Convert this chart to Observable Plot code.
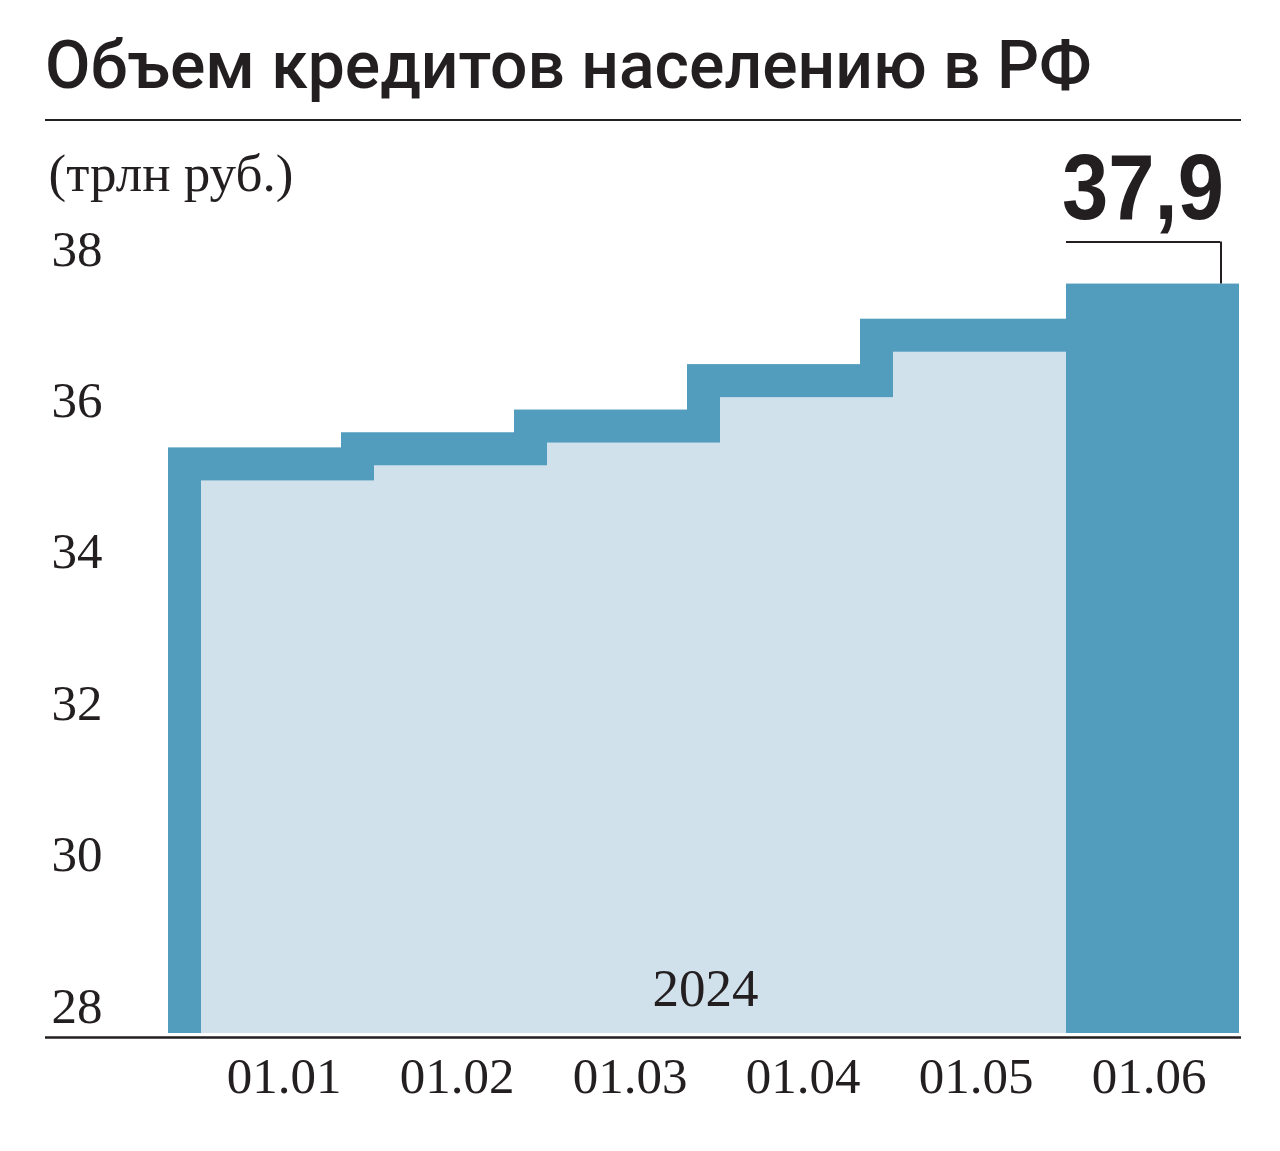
<!DOCTYPE html>
<html><head><meta charset="utf-8">
<script src="https://cdn.jsdelivr.net/npm/d3@7"></script>
<script src="https://cdn.jsdelivr.net/npm/@observablehq/plot@0.6"></script>
<style>
html,body{margin:0;padding:0;background:#fff;}
body{width:1280px;height:1151px;position:relative;overflow:hidden;}
#title{position:absolute;left:45px;top:33px;font-family:Roboto,'Liberation Sans',sans-serif;font-weight:500;font-size:66px;line-height:66px;color:#231f20;white-space:nowrap;}
#rule{position:absolute;left:45px;top:119px;width:1196px;height:2px;background:#231f20;}
#chart{position:absolute;left:0;top:122px;}
</style></head><body>
<div id="title">Объем кредитов населению в РФ</div>
<div id="rule"></div>
<div id="chart"></div>
<script>
const dates = ["01.01", "01.02", "01.03", "01.04", "01.05", "01.06"];
const values = [35.3, 35.5, 35.8, 36.4, 37.0, 37.9];
const yTicks = [28, 30, 32, 34, 36, 38];
const baseValue = 28;
const unitLabel = "(трлн руб.)";
const yearLabel = "2024";

const data = dates.map((d, i) => ({date: d, value: values[i]}));
const history = data.slice(0, -1);
const latest = data.slice(-1);
const fmt = v => v.toFixed(1).replace(".", ",");
const dark = "#529cbd", light = "#d0e1eb", ink = "#231f20";
const serif = "'Liberation Serif', 'Times New Roman', serif";

const plot = Plot.plot({
  width: 1280, height: 1029,
  marginLeft: 45, marginRight: 39, marginTop: 154, marginBottom: 118,
  style: {fontFamily: serif, fontSize: "51px", color: ink, background: "transparent"},
  x: {domain: dates, range: [199, 1241], padding: 0, label: null},
  y: {domain: [baseValue, 38], label: null},
  marks: [
    Plot.barY(history, {x: "date", y1: baseValue, y2: "value", fill: dark, insetLeft: -33, insetTop: -33}),
    Plot.barY(history, {x: "date", y1: baseValue, y2: "value", fill: light}),
    Plot.barY(latest, {x: "date", y1: baseValue, y2: "value", fill: dark}),
    Plot.ruleY([baseValue], {dy: 4, stroke: ink, strokeWidth: 2.5}),
    Plot.axisY(yTicks, {tickSize: 0, tickPadding: 0, tickFormat: d => String(d), textAnchor: "start", lineAnchor: "bottom", dx: 6, dy: -11, fill: ink, label: null}),
    Plot.axisX({tickSize: 0, tickPadding: 0, lineAnchor: "bottom", dy: 59, dx: -4, fill: ink, label: null}),
    Plot.text([unitLabel], {frameAnchor: "top-left", textAnchor: "start", lineAnchor: "bottom", dx: 3, dy: -86, fill: ink, fontSize: 53}),
    Plot.text([yearLabel], {frameAnchor: "bottom", lineAnchor: "bottom", dx: 62, dy: -28, fill: ink, fontSize: 53}),
    Plot.tickY(latest, {x: "date", y: "value", dy: -42, insetRight: 19, stroke: ink, strokeWidth: 2}),
    Plot.ruleX(latest, {x: "date", y1: "value", y2: "value", insetTop: -42, dx: 68, stroke: ink, strokeWidth: 2}),
    Plot.text(latest, {x: "date", y: "value", text: d => fmt(d.value), dx: -10, dy: -65, lineAnchor: "bottom",
      fontFamily: "'Liberation Sans', Arial, sans-serif", fontWeight: "bold", fontSize: 92, fill: ink})
  ]
});
// condense the headline figure to the narrow look of the original
const bigLabel = fmt(latest[0].value);
plot.querySelectorAll("text").forEach(t => {
  if (t.textContent === bigLabel) {
    t.setAttribute("textLength", 162);
    t.setAttribute("lengthAdjust", "spacingAndGlyphs");
  }
});
document.getElementById("chart").appendChild(plot);
</script></body></html>
